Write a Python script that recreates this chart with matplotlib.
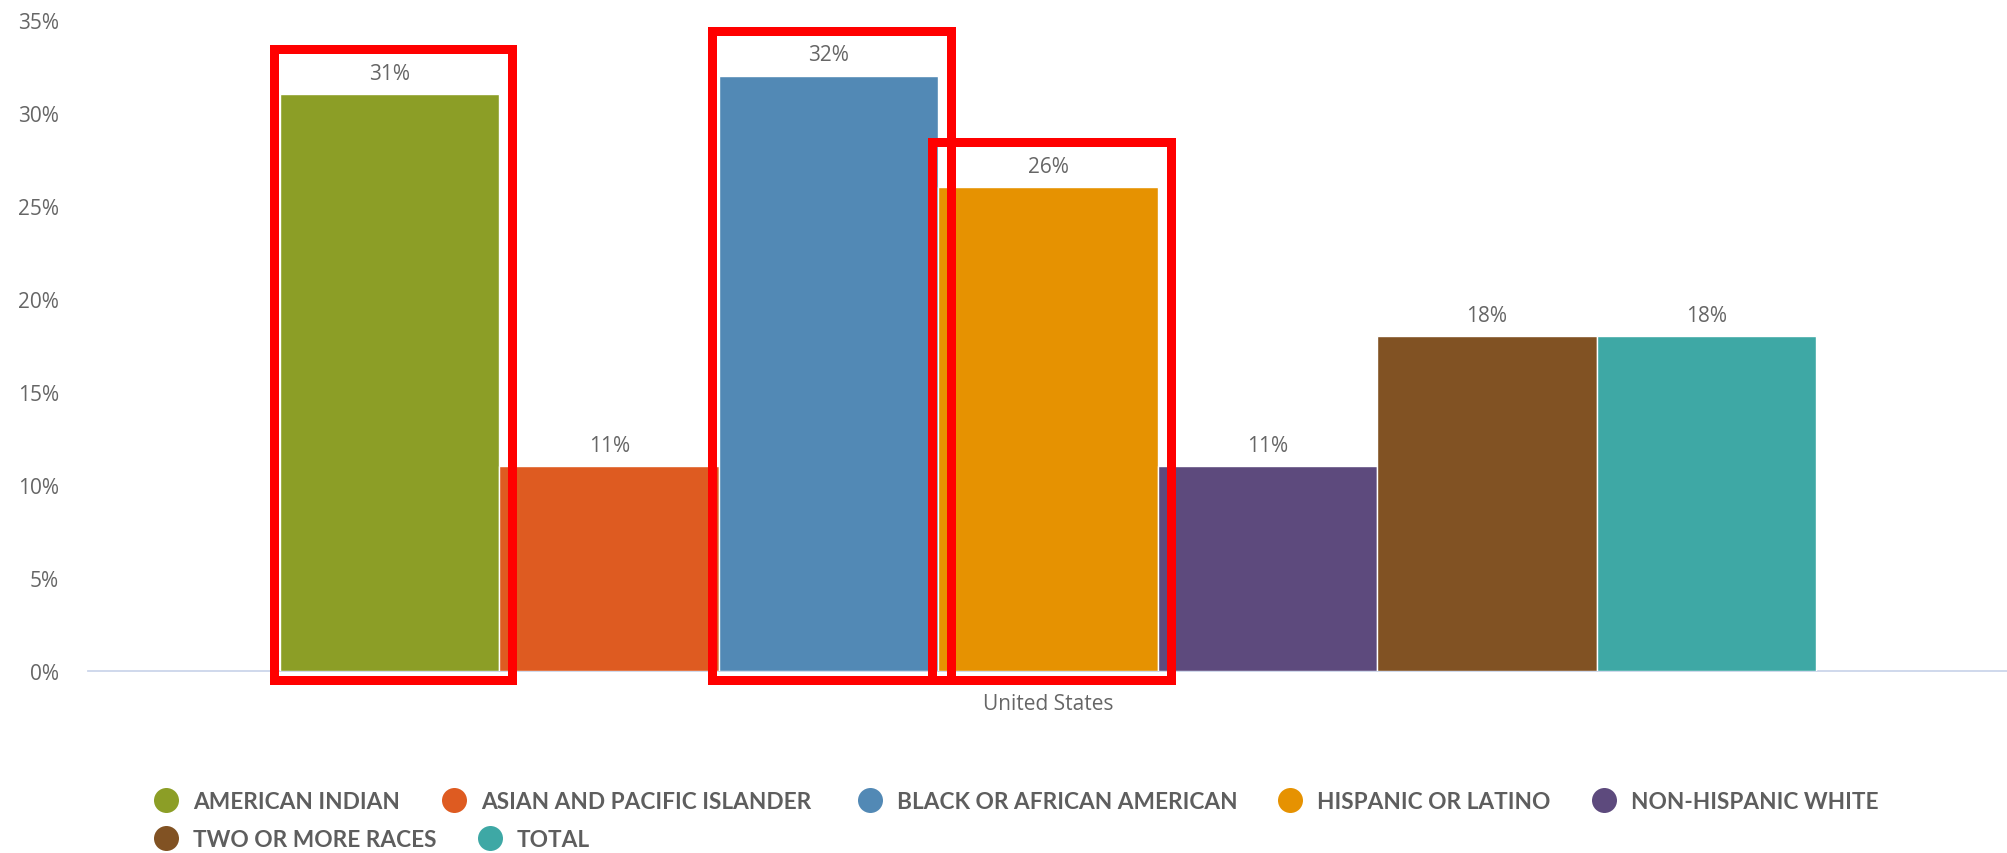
import matplotlib
matplotlib.use("Agg")
import matplotlib.pyplot as plt
from matplotlib.patches import Rectangle
from matplotlib.lines import Line2D

# ---------------- data ----------------
categories = ["United States"]
series_names = [
    "AMERICAN INDIAN",
    "ASIAN AND PACIFIC ISLANDER",
    "BLACK OR AFRICAN AMERICAN",
    "HISPANIC OR LATINO",
    "NON-HISPANIC WHITE",
    "TWO OR MORE RACES",
    "TOTAL",
]
series_values = [31, 11, 32, 26, 11, 18, 18]
series_colors = ["#8c9e26", "#de5b21", "#5289b5", "#e69201",
                 "#5d4a7d", "#815223", "#3ea8a5"]
y_ticks = [0, 5, 10, 15, 20, 25, 30, 35]
y_tick_labels = ["0%", "5%", "10%", "15%", "20%", "25%", "30%", "35%"]
highlighted = ["AMERICAN INDIAN", "BLACK OR AFRICAN AMERICAN", "HISPANIC OR LATINO"]

# ---------------- layout ----------------
W, H = 2008, 854
AX_L, AX_R, AX_T, AX_B = 88, 2008, 21, 672       # axes box in pixels
legend_marker_x = [166, 454, 870, 1290, 1604, 166, 490]
legend_row_y = [801, 801, 801, 801, 801, 839, 839]

TEXT_FONT = ["Open Sans", "DejaVu Sans"]
LEGEND_FONT = ["Lato", "DejaVu Sans"]
GRAY = "#666666"

fig = plt.figure(figsize=(W / 100, H / 100), dpi=100)
ax = fig.add_axes([AX_L / W, 1 - AX_B / H, (AX_R - AX_L) / W, (AX_B - AX_T) / H])

xlim = (-0.5, 0.5)
ylim = (0, 35)
ax.set_xlim(*xlim)
ax.set_ylim(*ylim)
px_x = (xlim[1] - xlim[0]) / (AX_R - AX_L)
px_y = (ylim[1] - ylim[0]) / (AX_B - AX_T)
pt = 72 / 100  # points per pixel

n = len(series_names)
group_w = 0.8
bw = group_w / n
xs = [-group_w / 2 + (i + 0.5) * bw for i in range(n)]

bars = ax.bar(xs, series_values, width=bw, color=series_colors,
              edgecolor="white", linewidth=1.0, zorder=3)

for x, v in zip(xs, series_values):
    ax.annotate(f"{v}%", (x, v), xytext=(0, 15.5 * pt), textcoords="offset points",
                ha="center", va="baseline", fontsize=15, color=GRAY,
                family=TEXT_FONT, zorder=4)

# red highlight boxes
for name in highlighted:
    i = series_names.index(name)
    left = xs[i] - bw / 2 - 6.5 * px_x
    right = xs[i] + bw / 2 + 13 * px_x
    bottom = -9 * px_y
    top = series_values[i] + 45 * px_y
    ax.add_patch(Rectangle((left, bottom), right - left, top - bottom,
                           fill=False, edgecolor="#ff0000", linewidth=9 * pt,
                           joinstyle="miter", clip_on=False, zorder=6))

# axes styling
for s in ["top", "right", "left"]:
    ax.spines[s].set_visible(False)
ax.spines["bottom"].set_color("#ccd6eb")
ax.spines["bottom"].set_linewidth(1.3)
ax.spines["bottom"].set_zorder(2)

ax.set_yticks(y_ticks)
ax.set_yticklabels(y_tick_labels, family=TEXT_FONT, fontsize=15, color=GRAY)
ax.set_xticks([0])
ax.set_xticklabels(categories, family=TEXT_FONT, fontsize=15, color=GRAY)
ax.tick_params(axis="y", length=0, pad=29 * pt)
ax.tick_params(axis="x", length=0, pad=22 * pt)

# legend (manual, flowing like the original)
for name, color, mx, my in zip(series_names, series_colors, legend_marker_x, legend_row_y):
    fig.add_artist(Line2D([mx / W], [1 - my / H], marker="o", markersize=25 * pt,
                          color=color, markeredgewidth=0, linestyle="none",
                          transform=fig.transFigure))
    fig.text((mx + 27) / W, 1 - (my + 8.5) / H, name, ha="left", va="baseline",
             fontsize=16.3, fontweight="bold", color="#5e5e5e", family=LEGEND_FONT)

fig.savefig("out.png", dpi=100, facecolor="white")
